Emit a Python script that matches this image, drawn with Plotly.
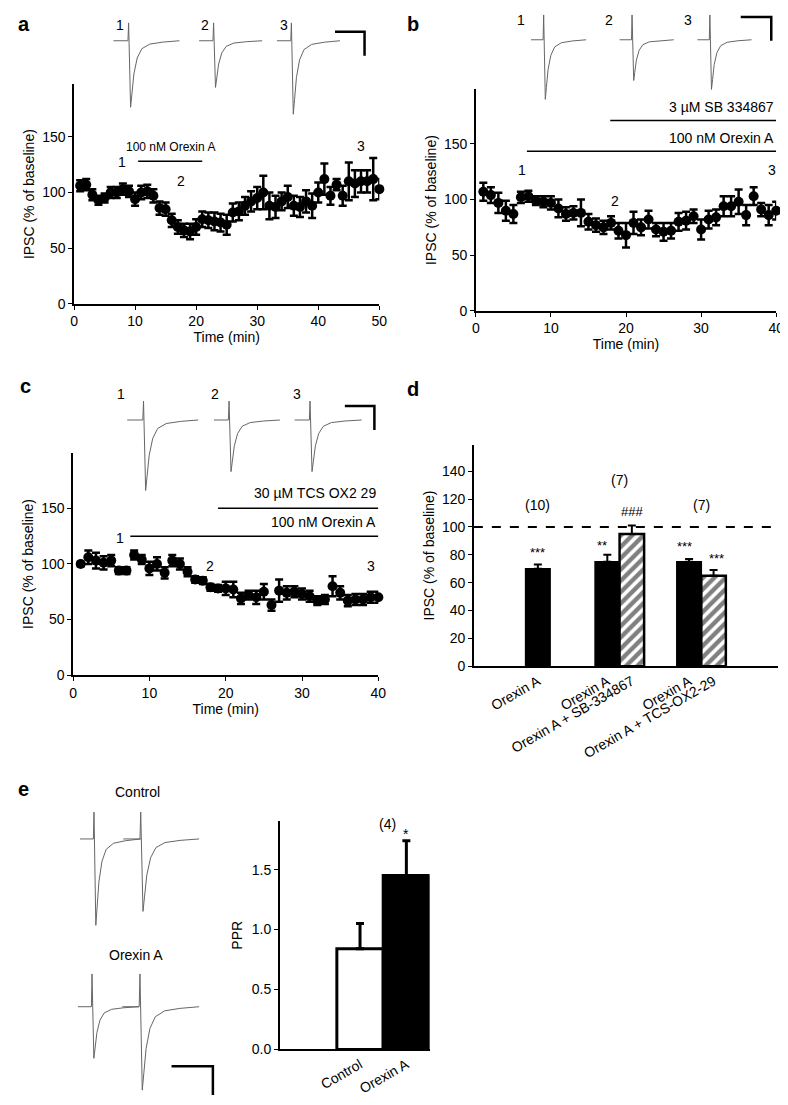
import plotly.graph_objects as go

W, H = 788, 1105
FONT = "Liberation Sans, Arial, sans-serif"

# ---- panel a: orexin A alone
a_t = list(range(1, 51))
a_y = [106, 107, 98, 93, 95, 100, 100, 103, 101, 94, 100, 101, 97, 86, 85, 75, 69, 66, 65, 69,
       76, 75, 74, 73, 71, 82, 83, 88, 92, 95, 100, 88, 87, 92, 96, 88, 87, 92, 88, 100,
       112, 97, 107, 97, 110, 108, 110, 110, 112, 103]
a_err = [5, 5, 5, 4, 4, 5, 5, 5, 5, 6, 6, 6, 6, 6, 6, 6, 6, 6, 7, 7,
         7, 7, 8, 8, 9, 8, 8, 8, 9, 10, 15, 12, 10, 8, 10, 9, 9, 10, 11, 9,
         14, 8, 5, 9, 17, 12, 10, 10, 19, 9]

# ---- panel b: + SB 334867
b_t = list(range(1, 41))
b_y = [107, 104, 97, 90, 87, 102, 103, 99, 98, 97, 92, 87, 88, 88, 80, 77, 75, 79, 72, 68,
       79, 75, 82, 73, 71, 72, 80, 81, 85, 73, 82, 84, 94, 94, 98, 86, 103, 91, 86, 90]
b_err = [8, 7, 9, 9, 8, 5, 5, 4, 5, 6, 8, 6, 6, 12, 7, 6, 6, 6, 7, 11,
         10, 7, 8, 6, 8, 7, 8, 8, 6, 9, 8, 7, 9, 9, 11, 9, 8, 6, 9, 8]

# ---- panel c: + TCS OX2 29
c_t = list(range(1, 41))
c_y = [100, 106, 103, 101, 103, 94, 94, 108, 104, 96, 100, 92, 103, 100, 93, 86, 85, 79, 78, 78,
       77, 69, 72, 70, 75, 63, 76, 74, 75, 73, 71, 67, 68, 80, 74, 67, 68, 68, 70, 70]
c_err = [2, 6, 7, 6, 5, 3, 3, 4, 4, 6, 6, 5, 5, 5, 4, 3, 3, 3, 3, 6,
         7, 5, 4, 6, 7, 5, 10, 6, 5, 5, 5, 4, 4, 9, 6, 5, 5, 5, 5, 5]

# ---- panel d: summary
d_black_x = [1, 2, 3]
d_black_y = [70, 75, 75]
d_black_err = [3, 5, 2]
d_hatch_x = [2, 3]
d_hatch_y = [95, 65]
d_hatch_err = [6, 4]
d_tickvals = [1, 1.85, 2.15, 2.85, 3.15]
d_ticktext = ["Orexin A", "Orexin A", "Orexin A + SB-334867", "Orexin A", "Orexin A + TCS-OX2-29"]

# ---- panel e: paired-pulse ratio
e_cat = ["Control", "Orexin A"]
e_y = [0.84, 1.45]
e_err = [0.21, 0.29]

# normalised IPSC sweep shape
SW_T = [0, 0.22, 0.23, 0.245, 0.26, 0.28, 0.31, 0.36, 0.43, 0.55, 0.75, 1.0]
SW_V = [0, 0, 1, -0.3, -1, -0.8, -0.5, -0.26, -0.12, -0.05, -0.02, 0]

# (x start, width, baseline y, spike height, trough depth) in page pixels
sweeps = [
    (103, 67, 33, 18, 67), (190, 64, 33, 18, 47), (269, 64, 33, 18, 74),
    (527, 56, 32, 25, 60), (617, 55, 32, 25, 41), (696, 55, 32, 25, 50),
    (117, 72, 415, 19, 71), (205, 67, 415, 19, 52), (287, 68, 415, 19, 52),
    (69, 62, 837, 27, 87), (113, 77, 837, 27, 73),
    (67, 62, 1006, 33, 52), (112, 78, 1006, 33, 84),
]
scalebars = [(328, 358, 24, 48), (740, 771, 9, 33), (338, 368, 401, 425), (162, 204, 1066, 1095)]


def dx(p0, p1):
    return [p0 / W, p1 / W]


def dy(p_bottom, p_top):
    return [1 - p_bottom / H, 1 - p_top / H]


fig = go.Figure()

for t, y, e, ax in [(a_t, a_y, a_err, ""), (b_t, b_y, b_err, "2"), (c_t, c_y, c_err, "3")]:
    fig.add_trace(go.Scatter(
        x=t, y=y, mode="markers", xaxis="x" + ax, yaxis="y" + ax, cliponaxis=False,
        marker=dict(color="black", size=10),
        error_y=dict(type="data", array=e, color="black", thickness=2.5, width=4),
        showlegend=False))

fig.add_trace(go.Bar(
    x=d_black_x, y=d_black_y, width=0.3, offset=[-0.15, -0.3, -0.3],
    marker=dict(color="black", line=dict(color="black", width=1.5)),
    error_y=dict(type="data", array=d_black_err, arrayminus=[0, 0, 0], color="black", thickness=2, width=4),
    xaxis="x4", yaxis="y4", showlegend=False))
fig.add_trace(go.Bar(
    x=d_hatch_x, y=d_hatch_y, width=0.3, offset=0,
    marker=dict(color="white", line=dict(color="black", width=2.5),
                pattern=dict(shape="/", fgcolor="black", bgcolor="white", size=8, solidity=0.55)),
    error_y=dict(type="data", array=d_hatch_err, arrayminus=[0, 0], color="black", thickness=2, width=4),
    xaxis="x4", yaxis="y4", showlegend=False))

fig.add_trace(go.Bar(
    x=[0, 1], y=e_y, width=1,
    marker=dict(color=["white", "black"], line=dict(color="black", width=3)),
    error_y=dict(type="data", array=e_err, arrayminus=[0, 0], color="black", thickness=3, width=4),
    xaxis="x5", yaxis="y5", showlegend=False))

# example traces and scale bars on a page-pixel overlay axis
for x0, w, base, up, down in sweeps:
    xs = [x0 + t * w for t in SW_T]
    ys = [base - v * (up if v > 0 else down) for v in SW_V]
    fig.add_trace(go.Scatter(x=xs, y=ys, mode="lines", line=dict(color="#666", width=1),
                             xaxis="x6", yaxis="y6", showlegend=False, hoverinfo="skip"))
for x0, x1, y0, y1 in scalebars:
    fig.add_trace(go.Scatter(x=[x0, x1, x1], y=[y0, y0, y1], mode="lines",
                             line=dict(color="black", width=2.5),
                             xaxis="x6", yaxis="y6", showlegend=False, hoverinfo="skip"))

ax_common = dict(showline=True, linecolor="black", linewidth=1.5, ticks="outside",
                 tickcolor="black", ticklen=4, showgrid=False, zeroline=False,
                 tickfont=dict(size=14, color="black"))
ttl = dict(size=14, color="black")

fig.update_layout(
    width=W, height=H, margin=dict(l=0, r=0, t=0, b=0),
    paper_bgcolor="white", plot_bgcolor="rgba(0,0,0,0)",
    font=dict(family=FONT, color="black"), barmode="overlay",
    xaxis=dict(ax_common, domain=dx(63, 373), range=[0, 50], tickvals=[0, 10, 20, 30, 40, 50],
               anchor="y", title=dict(text="Time (min)", font=ttl, standoff=4)),
    yaxis=dict(ax_common, domain=dy(298, 77), range=[0, 197], tickvals=[0, 50, 100, 150],
               anchor="x", title=dict(text="IPSC (% of baseline)", font=ttl, standoff=4)),
    xaxis2=dict(ax_common, domain=dx(471, 776), range=[0, 40], tickvals=[0, 10, 20, 30, 40],
                anchor="y2", title=dict(text="Time (min)", font=ttl, standoff=4)),
    yaxis2=dict(ax_common, domain=dy(305, 82), range=[0, 199], tickvals=[0, 50, 100, 150],
                anchor="x2", title=dict(text="IPSC (% of baseline)", font=ttl, standoff=4)),
    xaxis3=dict(ax_common, domain=dx(62, 372), range=[0, 40], tickvals=[0, 10, 20, 30, 40],
                anchor="y3", title=dict(text="Time (min)", font=ttl, standoff=4)),
    yaxis3=dict(ax_common, domain=dy(672, 448), range=[0, 200], tickvals=[0, 50, 100, 150],
                anchor="x3", title=dict(text="IPSC (% of baseline)", font=ttl, standoff=4)),
    xaxis4=dict(ax_common, domain=dx(469, 778), range=[0.217, 3.94], ticks="",
                tickvals=d_tickvals, ticktext=d_ticktext, tickangle=-30, anchor="y4"),
    yaxis4=dict(ax_common, domain=dy(663, 440), range=[0, 159], tickvals=list(range(0, 141, 20)),
                anchor="x4", title=dict(text="IPSC (% of baseline)", font=ttl, standoff=4)),
    xaxis5=dict(ax_common, domain=dx(272, 424), range=[-1.73, 1.5], ticks="",
                tickvals=[0, 1], ticktext=e_cat, tickangle=-30, anchor="y5"),
    yaxis5=dict(ax_common, domain=dy(1049, 819), range=[0, 1.905], tickvals=[0, 0.5, 1.0, 1.5],
                tickformat=".1f", anchor="x5", title=dict(text="PPR", font=ttl, standoff=6)),
    xaxis6=dict(domain=[0, 1], range=[0, W], visible=False, anchor="y6", fixedrange=True),
    yaxis6=dict(domain=[0, 1], range=[H, 0], visible=False, anchor="x6", fixedrange=True),
)

shapes = [
    ("x", "y", 10.5, 21, 128), ("x2", "y2", 17.9, 40, 171), ("x2", "y2", 6.8, 40, 143.5),
    ("x3", "y3", 19, 40, 150), ("x3", "y3", 7.5, 40, 125),
]
for xr, yr, x0, x1, yv in shapes:
    fig.add_shape(type="line", xref=xr, yref=yr, x0=x0, x1=x1, y0=yv, y1=yv,
                  line=dict(color="black", width=1.5))
fig.add_shape(type="line", xref="x4 domain", yref="y4", x0=0, x1=1, y0=100, y1=100,
              line=dict(color="black", width=2, dash="dash"))

notes = [
    ("x", "y", 15.8, 141, "100 nM Orexin A", "center", 12),
    ("x", "y", 7.8, 127, "1", "center", 14), ("x", "y", 17.5, 110, "2", "center", 14),
    ("x", "y", 47, 142, "3", "center", 14),
    ("x2", "y2", 40, 183, "3 µM SB 334867", "right", 14),
    ("x2", "y2", 40, 155, "100 nM Orexin A", "right", 14),
    ("x2", "y2", 6.2, 127, "1", "center", 14), ("x2", "y2", 18.5, 99, "2", "center", 14),
    ("x2", "y2", 39.5, 127, "3", "center", 14),
    ("x3", "y3", 40, 164, "30 µM TCS OX2 29", "right", 14),
    ("x3", "y3", 40, 138, "100 nM Orexin A", "right", 14),
    ("x3", "y3", 6.1, 123, "1", "center", 14), ("x3", "y3", 18, 98, "2", "center", 14),
    ("x3", "y3", 39, 98, "3", "center", 14),
    ("x4", "y4", 1, 116, "(10)", "center", 14), ("x4", "y4", 2, 134, "(7)", "center", 14),
    ("x4", "y4", 3, 116, "(7)", "center", 14), ("x4", "y4", 2.15, 111, "###", "center", 13),
    ("x4", "y4", 1, 82, "***", "center", 13), ("x4", "y4", 1.78, 87, "**", "center", 13),
    ("x4", "y4", 2.8, 86, "***", "center", 13), ("x4", "y4", 3.18, 77, "***", "center", 13),
    ("x5", "y5", 0.6, 1.88, "(4)", "center", 14), ("x5", "y5", 1, 1.80, "*", "center", 14),
]
for xr, yr, x, y, txt, al, sz in notes:
    fig.add_annotation(xref=xr, yref=yr, x=x, y=y, text=txt, showarrow=False, xanchor=al,
                       font=dict(size=sz, color="black"))

page_text = [
    (12, 16, "<b>a</b>", 20), (407, 16, "<b>b</b>", 20), (14, 381, "<b>c</b>", 20),
    (407, 384, "<b>d</b>", 20), (12, 787, "<b>e</b>", 20),
    (110, 17, "1", 14), (196, 17, "2", 14), (276, 17, "3", 14),
    (517, 12, "1", 14), (606, 12, "2", 14), (686, 12, "3", 14),
    (111, 389, "1", 14), (206, 389, "2", 14), (289, 389, "3", 14),
    (127, 790, "Control", 14), (126, 954, "Orexin A", 14),
]
for x, y, txt, sz in page_text:
    fig.add_annotation(xref="x6", yref="y6", x=x, y=y, text=txt, showarrow=False,
                       font=dict(size=sz, color="black"))

fig.write_html("out.html")
